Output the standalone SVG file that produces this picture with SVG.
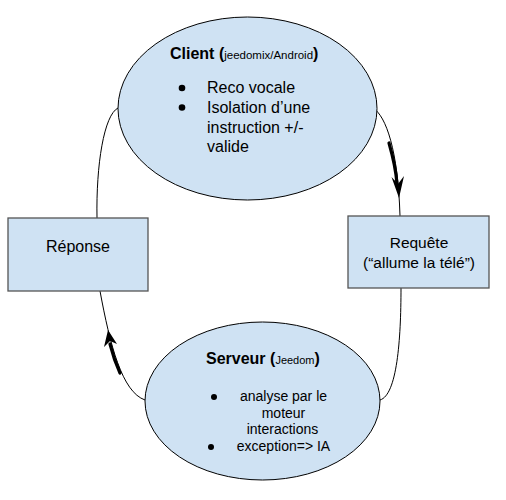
<svg xmlns="http://www.w3.org/2000/svg" width="506" height="500" viewBox="0 0 506 500">
<style>
.node{fill:#cfe2f3;stroke:#000;stroke-width:1}
.box{fill:#cfe2f3;stroke:#555;stroke-width:1.3}
.t{font-family:"Liberation Sans",Arial,sans-serif;fill:#000}
.c{fill:none;stroke:#000;stroke-width:1}
.b{fill:none;stroke:#000;stroke-width:3.2;stroke-linecap:round}
.h{fill:#000}
</style>
<rect width="506" height="500" fill="#fff"/>
<g id="connectors">
<path class="c" d="M373,108 C386,116 398,150 400,216"/>
<path class="b" d="M389,143 C393,157 396,170 397,184"/>
<polygon class="h" points="399,198 391.5,177 398,184 404,176"/>
<path class="c" d="M401,288 C401,340 397,395 380,400"/>
<path class="c" d="M145,400 C122,392 110,345 100,291"/>
<path class="b" d="M120,373 C115,362 112,352 110,344"/>
<polygon class="h" points="108,330 104,347 110,341 117,344"/>
<path class="c" d="M97,218 C96,165 104,115 118,108"/>
</g>
<g id="client">
<ellipse class="node" cx="247.5" cy="108.5" rx="129.5" ry="91.5"/>
<text class="t" x="170" y="59" font-size="16" font-weight="bold">Client (<tspan font-size="11.5" font-weight="normal">jeedomix/Android</tspan>)</text>
<circle cx="182" cy="88" r="3.3"/>
<circle cx="182" cy="107.5" r="3.3"/>
<text class="t" x="207" y="93" font-size="16">Reco vocale</text>
<text class="t" x="207" y="113" font-size="16">Isolation d’une</text>
<text class="t" x="207" y="132.5" font-size="16">instruction +/-</text>
<text class="t" x="207" y="152" font-size="16">valide</text>
</g>
<g id="requete">
<rect class="box" x="348" y="216" width="141" height="72"/>
<text class="t" x="419" y="248" font-size="15.5" text-anchor="middle">Requête</text>
<text class="t" x="419" y="268" font-size="15.5" text-anchor="middle">(“allume la télé”)</text>
</g>
<g id="serveur">
<ellipse class="node" cx="262.5" cy="401" rx="117.5" ry="79"/>
<text class="t" x="206" y="364" font-size="16" font-weight="bold">Serveur (<tspan font-size="11" font-weight="normal">Jeedom</tspan>)</text>
<circle cx="214" cy="397" r="3"/>
<circle cx="211" cy="447" r="3"/>
<text class="t" x="283.5" y="401" font-size="14" text-anchor="middle">analyse par le</text>
<text class="t" x="283.5" y="417.5" font-size="14" text-anchor="middle">moteur</text>
<text class="t" x="282.5" y="434" font-size="14" text-anchor="middle">interactions</text>
<text class="t" x="283.5" y="451" font-size="14" text-anchor="middle">exception=&gt; IA</text>
</g>
<g id="reponse">
<rect class="box" x="8" y="218" width="140" height="73"/>
<text class="t" x="78" y="252" font-size="16" text-anchor="middle">Réponse</text>
</g>
</svg>
